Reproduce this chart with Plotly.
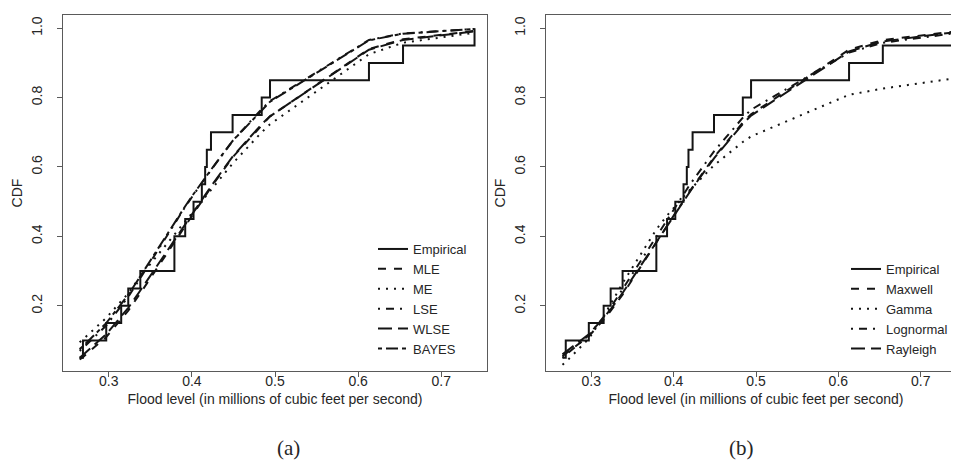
import plotly.graph_objects as go

# Flood data (sorted), millions of cubic feet per second
flood = [0.265, 0.269, 0.297, 0.315, 0.3235, 0.338, 0.379, 0.379, 0.392, 0.402,
         0.412, 0.416, 0.418, 0.423, 0.449, 0.484, 0.494, 0.613, 0.654, 0.740]
empirical = [0.05, 0.10, 0.15, 0.20, 0.25, 0.30, 0.35, 0.40, 0.45, 0.50,
             0.55, 0.60, 0.65, 0.70, 0.75, 0.80, 0.85, 0.90, 0.95, 1.00]

# Panel (a): fitted CDFs by estimation method
cdf_mle = [0.045, 0.052, 0.110, 0.160, 0.186, 0.236, 0.385, 0.385, 0.432, 0.468,
           0.502, 0.517, 0.524, 0.541, 0.628, 0.722, 0.746, 0.940, 0.968, 0.992]
cdf_me = [0.095, 0.103, 0.165, 0.212, 0.236, 0.285, 0.405, 0.405, 0.445, 0.474,
          0.503, 0.515, 0.521, 0.535, 0.610, 0.700, 0.723, 0.925, 0.958, 0.987]
cdf_lse = [0.070, 0.078, 0.143, 0.198, 0.226, 0.280, 0.437, 0.437, 0.485, 0.520,
           0.554, 0.568, 0.575, 0.591, 0.675, 0.767, 0.790, 0.966, 0.985, 0.998]
cdf_wlse = [0.050, 0.058, 0.118, 0.168, 0.194, 0.244, 0.390, 0.390, 0.437, 0.472,
            0.506, 0.520, 0.527, 0.544, 0.630, 0.723, 0.746, 0.938, 0.966, 0.991]
cdf_bayes = [0.075, 0.083, 0.150, 0.205, 0.232, 0.285, 0.440, 0.440, 0.487, 0.522,
             0.556, 0.569, 0.576, 0.592, 0.675, 0.765, 0.788, 0.965, 0.984, 0.998]

# Panel (b): fitted CDFs by distribution
cdf_maxwell = [0.055, 0.062, 0.112, 0.160, 0.185, 0.232, 0.380, 0.380, 0.430, 0.467,
               0.503, 0.517, 0.524, 0.542, 0.628, 0.728, 0.752, 0.938, 0.966, 0.990]
cdf_gamma = [0.030, 0.038, 0.105, 0.170, 0.205, 0.265, 0.420, 0.420, 0.460, 0.487,
             0.515, 0.525, 0.530, 0.542, 0.605, 0.672, 0.688, 0.808, 0.826, 0.855]
cdf_lognormal = [0.050, 0.058, 0.115, 0.168, 0.195, 0.248, 0.400, 0.400, 0.450, 0.487,
                 0.522, 0.536, 0.543, 0.560, 0.645, 0.742, 0.765, 0.930, 0.958, 0.985]
cdf_rayleigh = [0.060, 0.067, 0.118, 0.165, 0.190, 0.237, 0.382, 0.382, 0.430, 0.466,
                0.501, 0.515, 0.522, 0.540, 0.625, 0.724, 0.748, 0.933, 0.962, 0.988]

x_ticks = [0.3, 0.4, 0.5, 0.6, 0.7]
y_ticks = [0.2, 0.4, 0.6, 0.8, 1.0]
x_title = "Flood level (in millions of cubic feet per second)"

INK = "#141414"
LW = 2
DASH = {
    "solid": "solid",
    "dashed": "8px,8px",
    "dotted": "2px,6px",
    "dotdash": "2px,6px,8px,6px",
    "longdash": "14px,6px",
    "twodash": "4px,4px,12px,4px",
}

fig = go.Figure()

panel_a = [
    ("MLE", cdf_mle, "dashed"),
    ("ME", cdf_me, "dotted"),
    ("LSE", cdf_lse, "dotdash"),
    ("WLSE", cdf_wlse, "longdash"),
    ("BAYES", cdf_bayes, "twodash"),
]
panel_b = [
    ("Maxwell", cdf_maxwell, "dashed"),
    ("Gamma", cdf_gamma, "dotted"),
    ("Lognormal", cdf_lognormal, "dotdash"),
    ("Rayleigh", cdf_rayleigh, "longdash"),
]

fig.add_trace(go.Scatter(x=flood, y=empirical, name="Empirical", mode="lines",
                         line=dict(color=INK, width=LW, shape="hv"),
                         xaxis="x", yaxis="y", legend="legend"))
for name, vals, d in panel_a:
    fig.add_trace(go.Scatter(x=flood, y=vals, name=name, mode="lines",
                             line=dict(color=INK, width=LW, dash=DASH[d]),
                             xaxis="x", yaxis="y", legend="legend"))

fig.add_trace(go.Scatter(x=flood, y=empirical, name="Empirical", mode="lines",
                         line=dict(color=INK, width=LW, shape="hv"),
                         xaxis="x2", yaxis="y2", legend="legend2"))
for name, vals, d in panel_b:
    fig.add_trace(go.Scatter(x=flood, y=vals, name=name, mode="lines",
                             line=dict(color=INK, width=LW, dash=DASH[d]),
                             xaxis="x2", yaxis="y2", legend="legend2"))

W, H = 959, 461
FONT = "Liberation Sans, Arial, sans-serif"
TXT = "#262626"
AX = "#5a5a5a"

ydom = [1 - 363 / H, 1 - 7 / H]
xdom1 = [55 / W, 479 / W]
xdom2 = [538 / W, 958 / W]


def xaxis(dom, anchor):
    return dict(domain=dom, anchor=anchor, range=[0.245, 0.755], tickvals=x_ticks,
                tickformat=".1f", ticks="outside", ticklen=5, tickcolor=AX,
                ticklabelstandoff=-8,
                showline=True, linecolor=AX, linewidth=1.3, mirror=True,
                showgrid=False, zeroline=False, automargin=False,
                tickfont=dict(family=FONT, size=14, color=TXT),
                title=dict(text=x_title, font=dict(family=FONT, size=14, color=TXT),
                           standoff=6))


def yaxis(dom, anchor):
    return dict(domain=dom, anchor=anchor, range=[0.012, 1.038], tickvals=y_ticks,
                tickformat=".1f", ticks="outside", ticklen=5, tickcolor=AX,
                tickangle=-90, ticklabelstandoff=9,
                showline=True, linecolor=AX, linewidth=1.3, mirror=True,
                showgrid=False, zeroline=False, automargin=False,
                tickfont=dict(family=FONT, size=14, color=TXT),
                title=dict(text="CDF", font=dict(family=FONT, size=14, color=TXT),
                           standoff=3))


leg_common = dict(bgcolor="rgba(0,0,0,0)", borderwidth=0,
                  font=dict(family=FONT, size=13, color=TXT),
                  xanchor="left", yanchor="bottom", tracegroupgap=0,
                  itemwidth=30)

fig.update_layout(
    width=W, height=H,
    margin=dict(l=0, r=0, t=0, b=0),
    paper_bgcolor="white", plot_bgcolor="white",
    xaxis=xaxis(xdom1, "y"), yaxis=yaxis(ydom, "x"),
    xaxis2=xaxis(xdom2, "y2"), yaxis2=yaxis(ydom, "x2"),
    legend=dict(x=365 / W, y=1 - 356 / H, **leg_common),
    legend2=dict(x=838 / W, y=1 - 356 / H, **leg_common),
    annotations=[
        dict(text="(a)", x=(xdom1[0] + xdom1[1]) / 2, y=1 - 440 / H,
             xref="paper", yref="paper", showarrow=False, yanchor="middle",
             font=dict(family="Liberation Serif, DejaVu Serif, serif", size=21, color=TXT)),
        dict(text="(b)", x=(xdom2[0] + xdom2[1]) / 2, y=1 - 440 / H,
             xref="paper", yref="paper", showarrow=False, yanchor="middle",
             font=dict(family="Liberation Serif, DejaVu Serif, serif", size=21, color=TXT)),
    ],
)

fig.write_html("out.html")
